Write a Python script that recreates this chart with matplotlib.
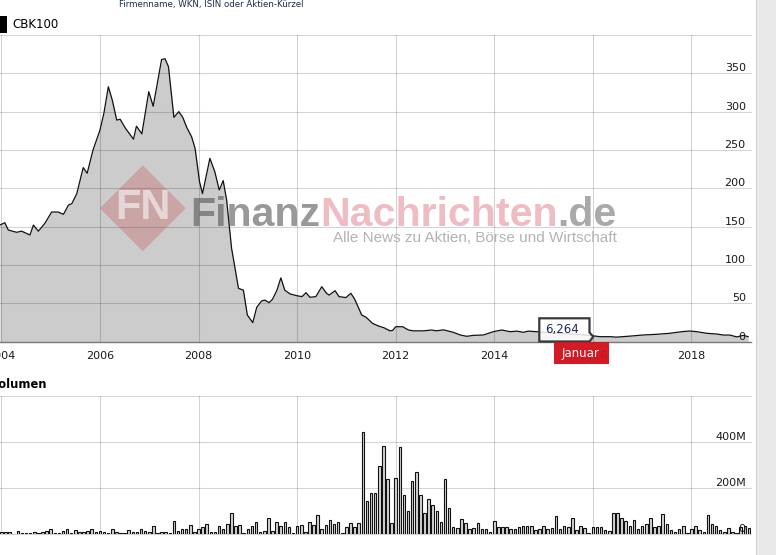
"""
CBK100 price / volume chart (finanznachrichten style), 2004-2019.
"""

import matplotlib
matplotlib.use("Agg")
import matplotlib.pyplot as plt
from matplotlib.patches import Rectangle, Polygon
from matplotlib.transforms import blended_transform_factory
import numpy as np

# ── Data ──────────────────────────────────────────────────────────────────────
# price: decimal year -> close (EUR)
price_years = [
    2003.97, 2004.07, 2004.14, 2004.31, 2004.41, 2004.58, 2004.65, 2004.75, 2004.88,
    2005.02, 2005.15, 2005.26, 2005.36, 2005.43, 2005.53, 2005.66, 2005.74, 2005.86,
    2006.00, 2006.08, 2006.17, 2006.25, 2006.34, 2006.41, 2006.51, 2006.68, 2006.74,
    2006.85, 2006.99, 2007.08, 2007.15, 2007.25, 2007.32, 2007.39, 2007.50, 2007.60,
    2007.68, 2007.76, 2007.86, 2007.93, 2008.02, 2008.08, 2008.23, 2008.33, 2008.42,
    2008.50, 2008.57, 2008.67, 2008.70, 2008.81, 2008.91, 2008.99, 2009.10, 2009.18,
    2009.28, 2009.35, 2009.43, 2009.50, 2009.59, 2009.67, 2009.75, 2009.86, 2010.02,
    2010.10, 2010.18, 2010.26, 2010.38, 2010.50, 2010.60, 2010.65, 2010.77, 2010.85,
    2010.99, 2011.09, 2011.17, 2011.31, 2011.40, 2011.53, 2011.65, 2011.76, 2011.88,
    2011.94, 2012.00, 2012.14, 2012.26, 2012.36, 2012.56, 2012.73, 2012.82, 2012.97,
    2013.17, 2013.31, 2013.44, 2013.58, 2013.78, 2013.98, 2014.15, 2014.32, 2014.46,
    2014.59, 2014.69, 2014.86, 2015.10, 2015.33, 2015.55, 2015.74, 2015.98, 2016.14,
    2016.35, 2016.48, 2016.75, 2017.02, 2017.29, 2017.56, 2017.80, 2017.97, 2018.11,
    2018.31, 2018.51, 2018.65, 2018.78, 2018.92, 2019.05, 2019.15,
]
price_values = [
    152, 155, 145.5, 142.5, 144, 139, 152, 144, 154,
    169, 169, 166, 178, 180, 193, 227, 219.5, 250,
    276, 298, 332.5, 315, 289, 290, 279, 264, 281,
    271, 326, 307, 332, 368, 369, 358.6, 292.5, 300,
    292.5, 279.5, 267, 252, 208.5, 193, 239, 221.6, 197.7,
    210, 184.7, 121.6, 110.7, 69.4, 67, 34.6, 24.6, 44.6,
    53, 54, 50.7, 55, 67, 83, 67, 62, 59.4,
    58.6, 63.7, 57.7, 58.6, 71.5, 62.7, 60.6, 66.3, 58.6,
    57.3, 62.9, 55, 34.6, 31.6, 23.7, 20.2, 18, 14,
    14.5, 19.3, 19.3, 15, 13.9, 13.9, 15, 13.9, 15.2,
    12, 8.5, 6.8, 8, 8.5, 12.8, 15, 12.8, 13.5,
    12, 13.5, 12.8, 11.5, 10.5, 9.8, 9, 7.6, 6.3,
    6.3, 5.7, 7, 8.5, 9.4, 10.7, 12.8, 13.7, 12.8,
    10.7, 9.8, 8.4, 8.4, 6.0, 8, 6.3,
]

# monthly volume (millions of shares), first bar = Jan 2004
vol_first_year = 2004
volume_m = [
    12, 8, 12, 3, 16, 4, 7, 7, 12, 7, 12, 14,
    22, 7, 7, 16, 22, 7, 20, 12, 9, 14, 22, 12,
    16, 9, 7, 25, 12, 7, 7, 17, 12, 12, 25, 14,
    12, 35, 7, 12, 12, 7, 59, 16, 25, 25, 42, 12,
    25, 30, 46, 12, 12, 35, 22, 46, 91, 35, 42, 7,
    25, 35, 55, 12, 16, 70, 16, 55, 38, 55, 30, 7,
    35, 42, 12, 55, 42, 83, 22, 42, 62, 43, 55, 7,
    33, 51, 33, 51, 442, 146, 181, 178, 298, 381, 242, 51,
    246, 377, 172, 100, 233, 272, 172, 91, 152, 125, 100, 55,
    242, 116, 33, 29, 65, 48, 22, 29, 48, 25, 25, 12,
    57, 30, 30, 30, 25, 25, 30, 38, 38, 38, 19, 25,
    35, 25, 29, 78, 25, 35, 30, 70, 19, 35, 29, 7,
    30, 33, 30, 20, 14, 91, 91, 70, 57, 38, 64, 22,
    38, 46, 70, 30, 38, 87, 46, 19, 12, 25, 38, 7,
    25, 38, 19, 12, 83, 46, 38, 19, 12, 29, 12, 7,
    33, 38, 29,
]

year_ticks = [2004, 2006, 2008, 2010, 2012, 2014, 2016, 2018]
price_ticks = [0, 50, 100, 150, 200, 250, 300, 350]
vol_ticks = [0, 200, 400]
vol_labels = ["0", "200M", "400M"]

tooltip_text = "6,264"
marker_text = "Januar"

# ── Settings ──────────────────────────────────────────────────────────────────
W, H = 776, 555
DPI = 100
X0, X1 = 2003.972, 2019.208

C_FILL = "#cccccc"
C_GRID = (0, 0, 0, 0.17)
C_TEXT = "#1a1a1a"
C_RED = "#d3111c"
plt.rcParams["font.family"] = ["DejaVu Sans"]


def fx(p):
    return p / W


def fy(p):
    return 1 - p / H


def grid(ax, ylines):
    for y in ylines:
        ax.axhline(y, color=C_GRID, lw=0.8, zorder=3, clip_on=False)
    for x in year_ticks:
        ax.axvline(x, color=C_GRID, lw=0.8, zorder=3)


def right_labels(ax, ticks, labels):
    tr = blended_transform_factory(ax.transAxes, ax.transData)
    for t, lab in zip(ticks, labels):
        ax.text(0.993, t, lab, transform=tr, ha="right", va="bottom",
                fontsize=8, color=C_TEXT, zorder=6)


fig = plt.figure(figsize=(W / DPI, H / DPI), dpi=DPI)
fig.patch.set_facecolor("white")

# grey strip on the right
fig.patches.append(Rectangle((fx(756), 0), 1 - fx(756), 1, transform=fig.transFigure,
                             facecolor="#e9e9e9", edgecolor="none", zorder=0))
fig.lines.append(plt.Line2D([fx(756), fx(756)], [0, 1], transform=fig.transFigure,
                            color="#d2d2d2", lw=0.8))

# ── Price panel ───────────────────────────────────────────────────────────────
ax = fig.add_axes([0, fy(341.5), fx(751), 306.5 / H])
ax.set_xlim(X0, X1)
ax.set_ylim(0, 400)
ax.fill_between(price_years, price_values, 0, color=C_FILL, lw=0, zorder=2)
ax.plot(price_years, price_values, color="#111111", lw=0.9, zorder=4)
grid(ax, price_ticks + [400])
right_labels(ax, price_ticks, [str(t) for t in price_ticks])

for s in ["top", "right", "left"]:
    ax.spines[s].set_visible(False)
ax.spines["bottom"].set_color("#7a7a7a")
ax.spines["bottom"].set_linewidth(1.0)
ax.spines["bottom"].set_zorder(5)
ax.set_yticks([])
ax.set_xticks(year_ticks)
ax.set_xticklabels([str(y) for y in year_ticks])
ax.tick_params(axis="x", length=0, pad=7, labelsize=8, labelcolor=C_TEXT)

# ── Volume panel ──────────────────────────────────────────────────────────────
axv = fig.add_axes([0, fy(534.3), fx(751), 138.3 / H])
axv.set_xlim(X0, X1)
axv.set_ylim(0, 600)
months = vol_first_year + np.arange(len(volume_m)) / 12
axv.bar(months, volume_m, width=0.62 / 12, color="#d6d6d6", edgecolor="#111111",
        linewidth=0.8, zorder=4)
grid(axv, [0, 200, 400, 600])
right_labels(axv, vol_ticks, vol_labels)
for s in axv.spines.values():
    s.set_visible(False)
axv.set_xticks([])
axv.set_yticks([])

# ── Header texts ──────────────────────────────────────────────────────────────
fig.text(fx(211), fy(4), "Firmenname, WKN, ISIN oder Aktien-Kürzel", ha="center",
         va="center", fontsize=6.2, color="#1b2b4b")
fig.patches.append(Rectangle((0, fy(32.7)), fx(7.3), (32.7 - 16.5) / H,
                             transform=fig.transFigure, facecolor="black",
                             edgecolor="none"))
fig.text(fx(12), fy(24.7), "CBK100", ha="left", va="center", fontsize=8.5, color="black")
fig.text(fx(-9), fy(384), "Volumen", ha="left", va="center", fontsize=8.3,
         fontweight="bold", color="black")

# ── Watermark ─────────────────────────────────────────────────────────────────
cx, cy, r = 142.8, 208.3, 43
fig.patches.append(Polygon([(fx(cx - r), fy(cy)), (fx(cx), fy(cy - r)),
                            (fx(cx + r), fy(cy)), (fx(cx), fy(cy + r))],
                           closed=True, transform=fig.transFigure,
                           facecolor="#c34046", alpha=0.28, edgecolor="none", zorder=7))
fig.text(fx(cx), fy(cy), "FN", ha="center", va="center", fontsize=30,
         fontweight="bold", family="Liberation Sans", color="white", alpha=0.55, zorder=8)

renderer = fig.canvas.get_renderer()
xpos = fx(190)
for word, col, alp in [("Finanz", "#555555", 0.6), ("Nachrichten", "#d04050", 0.35),
                       (".de", "#555555", 0.5)]:
    t = fig.text(xpos, fy(226.5), word, ha="left", va="baseline", fontsize=29.6,
                 fontweight="bold", family="Liberation Sans", color=col, alpha=alp,
                 zorder=8)
    bb = t.get_window_extent(renderer=renderer)
    xpos = bb.x1 / fig.bbox.width
fig.text(fx(617), fy(242.5), "Alle News zu Aktien, Börse und Wirtschaft", ha="right",
         va="baseline", fontsize=11, family="Liberation Sans", color="#b3b3b3", zorder=8)

# ── Tooltip + month marker ───────────────────────────────────────────────────
tip = [(539.3, 318.3), (589.5, 318.3), (589.5, 332.5), (593.3, 336.7),
       (589.5, 341.5), (539.3, 341.5)]
fig.patches.append(Polygon([(fx(a), fy(b)) for a, b in tip], closed=True,
                           transform=fig.transFigure, facecolor=(1, 1, 1, 0.85),
                           edgecolor="#3a3a3a", linewidth=1.6, zorder=9))
fig.text(fx(562), fy(329.5), tooltip_text, ha="center", va="center", fontsize=8.5,
         color="#1c2a5a", zorder=10)

fig.patches.append(Rectangle((fx(554), fy(364.3)), fx(608.7) - fx(554), (364.3 - 341.5) / H,
                             transform=fig.transFigure, facecolor=C_RED, alpha=0.96,
                             edgecolor="none", zorder=9))
fig.text(fx(580.5), fy(353), marker_text, ha="center", va="center", fontsize=8.5,
         color="white", zorder=10)

fig.savefig("out.png", dpi=DPI, facecolor="white")
plt.close(fig)
